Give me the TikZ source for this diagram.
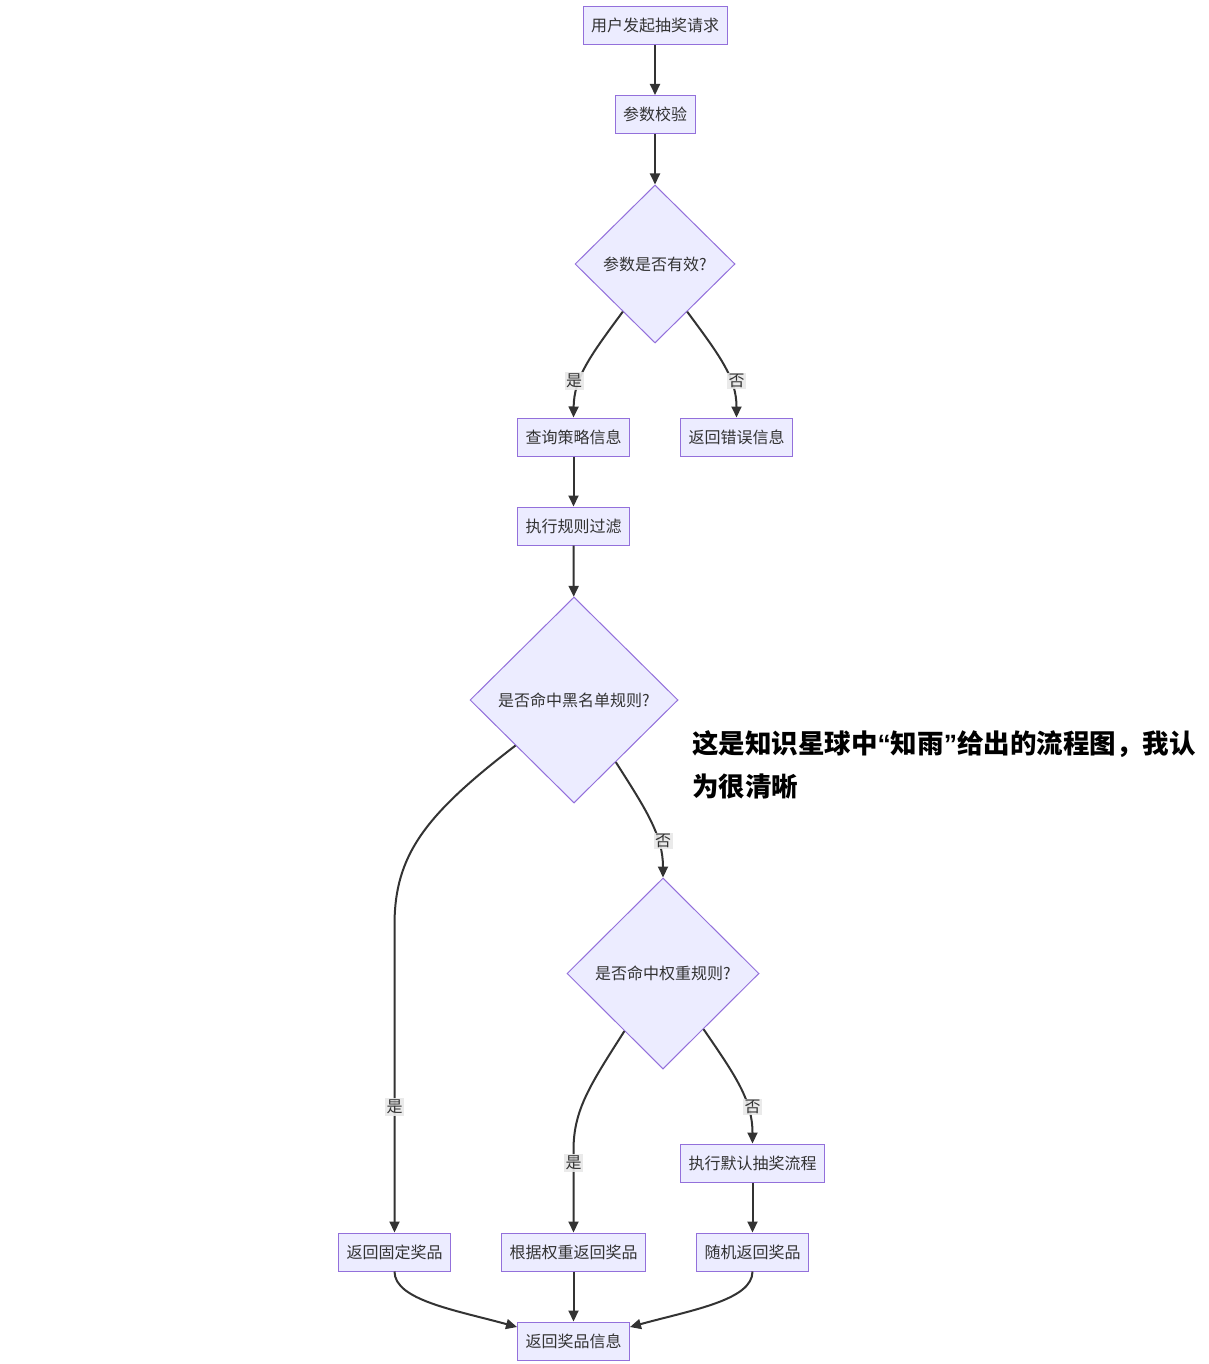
\documentclass[tikz,border=0pt]{standalone}
\usepackage{fontspec}
\setmainfont{Noto Sans CJK SC}
\newfontfamily\quotefont{Liberation Sans}
\usetikzlibrary{shapes.geometric, arrows.meta, calc}
\definecolor{nodefill}{HTML}{ECECFF}
\definecolor{nodeline}{HTML}{9370DB}
\definecolor{edgeline}{HTML}{333333}
\definecolor{labelbg}{HTML}{E8E8E8}
\newcommand{\openq}{{\quotefont\bfseries “}}
\newcommand{\closeq}{{\quotefont\bfseries ”}}
\tikzset{
  proc/.style={draw=nodeline, fill=nodefill, rectangle, line width=1pt, minimum height=38pt, inner xsep=8pt, text=edgeline, font=\fontsize{16}{19}\selectfont},
  cond/.style={draw=nodeline, fill=nodefill, diamond, line width=1pt, inner sep=0pt, text=edgeline, font=\fontsize{16}{19}\selectfont},
  flow/.style={draw=edgeline, line width=2pt, -{Triangle[length=11pt,width=10pt]}},
  yn/.style={fill=labelbg, fill opacity=0.9, text opacity=1, text=edgeline, inner sep=1.5pt, font=\fontsize{16}{19}\selectfont},
  note/.style={font=\fontsize{26.5}{27}\selectfont\bfseries, anchor=base west, inner sep=0pt}
}

\begin{document}
\begin{tikzpicture}[x=1pt, y=-1pt]
  \fill[white] (0,0) rectangle (1208,1364);
  \useasboundingbox (0,0) rectangle (1208,1364);

  % main column
  \node[proc] (start) at (655,25.5) {用户发起抽奖请求};
  \node[proc] (check) at (655,114.5) {参数校验};
  \node[cond, minimum width=160pt, minimum height=158pt] (valid) at (655,264) {参数是否有效?};
  \node[proc] (query) at (573.5,437) {查询策略信息};
  \node[proc] (error) at (736.5,437) {返回错误信息};
  \node[proc] (filter) at (573.5,526) {执行规则过滤};
  \node[cond, minimum width=208pt, minimum height=206pt] (black) at (574,700) {是否命中黑名单规则?};
  \node[cond, minimum width=192pt, minimum height=191pt] (weight) at (663,973.5) {是否命中权重规则?};
  \node[proc] (dflt) at (752.5,1163) {执行默认抽奖流程};
  \node[proc] (fixed) at (394.5,1252) {返回固定奖品};
  \node[proc] (byweight) at (573.5,1252) {根据权重返回奖品};
  \node[proc] (random) at (752.5,1252) {随机返回奖品};
  \node[proc] (info) at (573.5,1341) {返回奖品信息};

  % note on the right
  \node[note] (note1) at (692,753) {这是知识星球中\openq 知雨\closeq 给出的流程图，我认};
  \node[note] (note2) at (692,796) {为很清晰};

  % connectors
  \draw[flow] (start) -- (check);
  \draw[flow] (check) -- (valid);
  \draw[flow] ($(valid.west)!0.6!(valid.south)$) .. controls (590,356) and (574,378) .. (query.north);
  \draw[flow] ($(valid.east)!0.6!(valid.south)$) .. controls (720,356) and (736.5,378) .. (error.north);
  \draw[flow] (query) -- (filter);
  \draw[flow] (filter) -- (black);
  \draw[flow] ($(black.west)!0.44!(black.south)$) .. controls (425,815) and (394.5,855) .. (394.5,925) -- (fixed.north);
  \draw[flow] ($(black.east)!0.6!(black.south)$) .. controls (645,808) and (663,835) .. (weight.north);
  \draw[flow] ($(weight.west)!0.6!(weight.south)$) .. controls (590,1085) and (573.5,1110) .. (573.5,1150) -- (byweight.north);
  \draw[flow] ($(weight.east)!0.58!(weight.south)$) .. controls (735,1075) and (752.5,1100) .. (dflt.north);
  \draw[flow] (dflt) -- (random);
  \draw[flow] (fixed.south) .. controls (394.5,1300) and (455,1310) .. (info.west |- 0,1327);
  \draw[flow] (byweight) -- (info);
  \draw[flow] (random.south) .. controls (752.5,1300) and (692,1310) .. (info.east |- 0,1327);

  % yes / no labels
  \node[yn] (y1) at (574,381) {是};
  \node[yn] (n1) at (736.5,381) {否};
  \node[yn] (y2) at (394.5,1107) {是};
  \node[yn] (n2) at (663,841) {否};
  \node[yn] (y3) at (573.5,1163) {是};
  \node[yn] (n3) at (752.5,1107) {否};
\end{tikzpicture}
\end{document}
